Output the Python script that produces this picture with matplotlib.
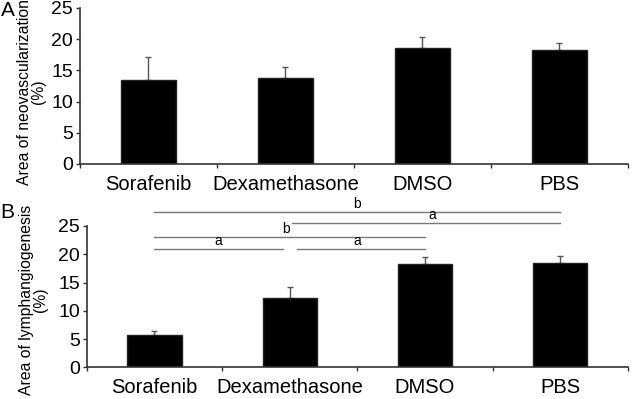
import matplotlib
matplotlib.use('Agg')
import matplotlib.pyplot as plt

# data
groups = ['Sorafenib', 'Dexamethasone', 'DMSO', 'PBS']
neo_mean = [13.4, 13.8, 18.6, 18.2]
neo_err = [3.8, 1.7, 1.8, 1.2]
lymph_mean = [5.8, 12.3, 18.3, 18.5]
lymph_err = [0.7, 1.9, 1.3, 1.2]

# significance brackets: (start, end, height, label, label x)
sig_lines = [
    (0, 3, 27.5, 'b', 1.5),
    (1.02, 3, 25.5, 'a', 2.05),
    (0, 2, 23.1, 'b', 0.97),
    (0, 0.95, 20.9, 'a', 0.47),
    (1.05, 2, 20.9, 'a', 1.5),
]

plt.rcParams['font.family'] = ['Liberation Sans', 'DejaVu Sans']

fig = plt.figure(figsize=(6.34, 3.99), dpi=100)
ax1 = fig.add_axes([0.126, 0.589, 0.8645, 0.391])
ax2 = fig.add_axes([0.137, 0.0794, 0.8535, 0.3542])

x = range(len(groups))


def style(ax):
    ax.set_xlim(-0.5, 3.5)
    ax.set_ylim(0, 25)
    ax.set_yticks([0, 5, 10, 15, 20, 25])
    ax.set_xticks(list(x))
    ax.set_xticklabels(groups)
    ax.set_xticks([-0.5, 0.5, 1.5, 2.5, 3.5], minor=True)
    ax.tick_params(axis='x', which='major', length=0, pad=8, labelsize=14.5)
    ax.tick_params(axis='x', which='minor', length=3, width=1, color='#333333')
    ax.tick_params(axis='y', length=3, width=1, color='#333333', labelsize=14, pad=2)
    for s in ['top', 'right']:
        ax.spines[s].set_visible(False)
    for s in ['left', 'bottom']:
        ax.spines[s].set_color('#333333')
        ax.spines[s].set_linewidth(1.2)


ax1.bar(x, neo_mean, width=0.4, color='black', edgecolor='#222222', zorder=2)
ax1.errorbar(x, neo_mean, yerr=[[0] * 4, neo_err], fmt='none', ecolor='#555555',
             elinewidth=1, capsize=2.5, capthick=1, zorder=1)
style(ax1)
ax1.set_ylabel('Area of neovascularization\n(%)', fontsize=11.3, linespacing=0.95)
ax1.yaxis.set_label_coords(-0.061, 0.46)

ax2.bar(x, lymph_mean, width=0.4, color='black', edgecolor='#222222', zorder=2)
ax2.errorbar(x, lymph_mean, yerr=[[0] * 4, lymph_err], fmt='none', ecolor='#555555',
             elinewidth=1, capsize=2.5, capthick=1, zorder=1)
style(ax2)
ax2.set_ylabel('Area of lymphangiogenesis\n(%)', fontsize=11.3, linespacing=0.95)
ax2.yaxis.set_label_coords(-0.071, 0.476)

for x0, x1, y, lab, xt in sig_lines:
    ax2.plot([x0, x1], [y, y], color='#777777', lw=1, clip_on=False)
    ax2.text(xt, y + 0.2, lab, ha='center', va='bottom', fontsize=10, clip_on=False)

fig.text(0.001, 0.997, 'A', fontsize=15, va='top', ha='left',
         family=['Liberation Sans Narrow', 'Liberation Sans'])
fig.text(0.001, 0.491, 'B', fontsize=15, va='top', ha='left')

fig.savefig('out.png', dpi=100)
